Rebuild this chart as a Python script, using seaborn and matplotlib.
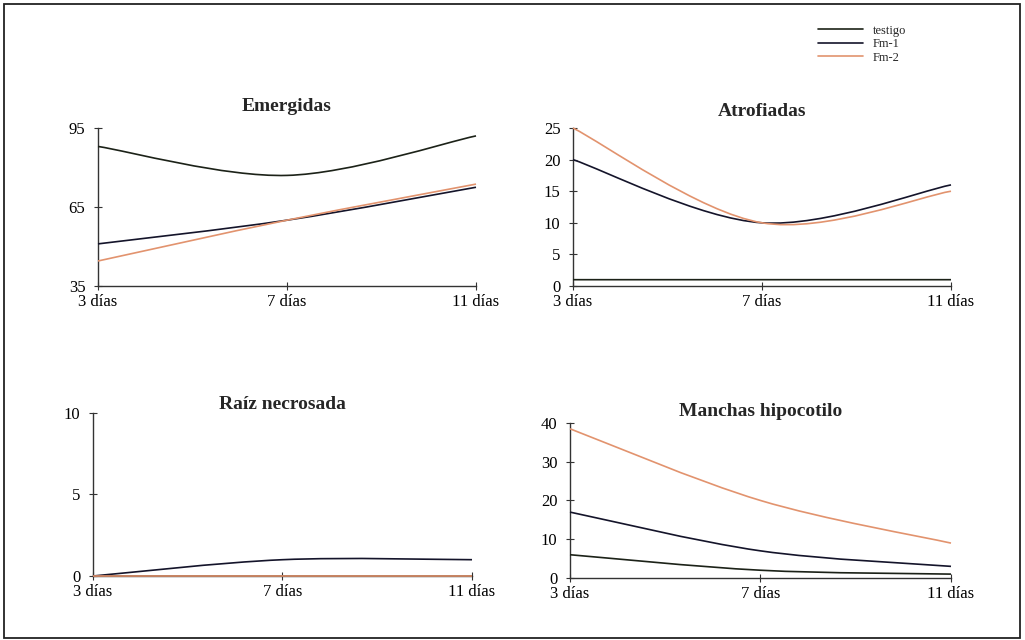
import numpy as np
import matplotlib.pyplot as plt
import seaborn as sns
from matplotlib.path import Path
from matplotlib.patches import PathPatch, Rectangle
from matplotlib.lines import Line2D

# datos
dias = [3, 7, 11]
etiquetas = ['3 días', '7 días', '11 días']
series = ['testigo', 'Fm-1', 'Fm-2']
colores = ['#1c2218', '#14142a', '#e2936e']

emergidas_testigo = [88, 77, 92]
emergidas_fm1 = [51, 60, 72.5]
emergidas_fm2 = [44.5, 60, 73.7]

atrofiadas_testigo = [1, 1, 1]
atrofiadas_fm1 = [20, 10, 16]
atrofiadas_fm2 = [25, 10, 15]

raiz_testigo = [0, 0, 0]
raiz_fm1 = [0, 1, 1]
raiz_fm2 = [0, 0, 0]

manchas_testigo = [6, 2, 1]
manchas_fm1 = [17, 7, 3]
manchas_fm2 = [38.5, 20, 9]

sns.set_style("ticks")
plt.rcParams['font.family'] = ['Liberation Serif', 'DejaVu Serif']


def curva(ax, x, y, color):
    # linea suavizada tipo Excel (Bezier a traves de los puntos)
    p = np.column_stack([x, y]).astype(float)
    ext = np.vstack([p[0], p, p[-1]])
    verts = [p[0]]
    codes = [Path.MOVETO]
    for i in range(len(p) - 1):
        c1 = ext[i + 1] + (ext[i + 2] - ext[i]) / 6
        c2 = ext[i + 2] - (ext[i + 3] - ext[i + 1]) / 6
        verts += [c1, c2, p[i + 1]]
        codes += [Path.CURVE4] * 3
    ax.add_patch(PathPatch(Path(verts, codes), fill=False, edgecolor=color,
                           lw=1.2, clip_on=False, zorder=3))


fig = plt.figure(figsize=(10.25, 6.4), dpi=100)

paneles = [
    ('Emergidas', [0.0956, 0.5531, 0.3688, 0.2469], [emergidas_testigo, emergidas_fm1, emergidas_fm2], (35, 95), [35, 65, 95], 12),
    ('Atrofiadas', [0.559, 0.5531, 0.3688, 0.2469], [atrofiadas_testigo, atrofiadas_fm1, atrofiadas_fm2], (0, 25), [0, 5, 10, 15, 20, 25], 9),
    ('Raíz necrosada', [0.0907, 0.1, 0.3698, 0.2547], [raiz_testigo, raiz_fm1, raiz_fm2], (0, 10), [0, 5, 10], 2),
    ('Manchas hipocotilo', [0.5561, 0.0969, 0.3717, 0.2422], [manchas_testigo, manchas_fm1, manchas_fm2], (0, 40), [0, 10, 20, 30, 40], 5),
]

for titulo, rect, valores, ylim, yticks, pad in paneles:
    ax = fig.add_axes(rect)
    for v, c in zip(valores, colores):
        curva(ax, dias, v, c)
    ax.set_xlim(dias[0], dias[-1])
    ax.set_ylim(*ylim)
    ax.set_xticks(dias)
    ax.set_xticklabels(etiquetas)
    ax.set_yticks(yticks)
    ax.tick_params(direction='inout', length=6, width=0.8, colors='#333333',
                   labelcolor='black', labelsize=12)
    ax.tick_params(axis='x', pad=3)
    ax.tick_params(axis='y', pad=6)
    for s in ['left', 'bottom']:
        ax.spines[s].set_color('#333333')
        ax.spines[s].set_linewidth(1.0)
    sns.despine(ax=ax)
    ax.set_title(titulo, fontsize=14, fontweight='bold', pad=pad)

handles = [Line2D([0], [0], color=c, lw=1.2) for c in colores]
fig.legend(handles, series, loc='upper left', bbox_to_anchor=(0.787, 0.979),
           frameon=False, fontsize=9, handlelength=3.6, labelspacing=0.12,
           handletextpad=0.8)

# marco de la pagina
fig.add_artist(Rectangle((4 / 1025, 2 / 640), 1016 / 1025, 634 / 640,
                         transform=fig.transFigure, fill=False,
                         edgecolor='#222222', lw=1.3))

fig.savefig('out.png', dpi=100)
